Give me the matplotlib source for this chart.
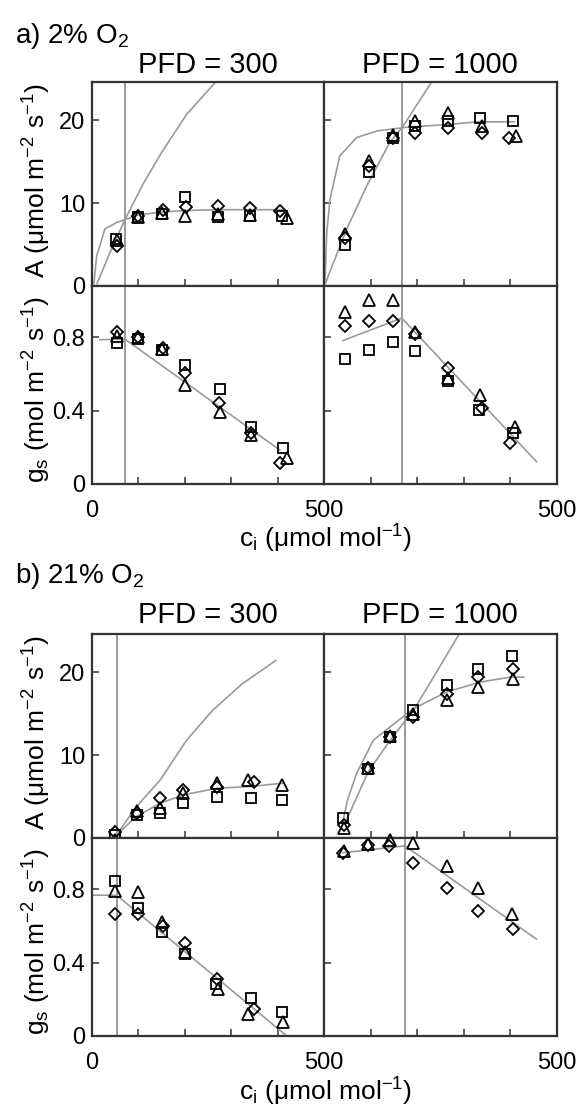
import numpy as np
import matplotlib
matplotlib.use('Agg')
import matplotlib.pyplot as plt

plt.rcParams['font.family'] = ['Liberation Sans', 'DejaVu Sans']
plt.rcParams['mathtext.default'] = 'regular'

# ---- a) 2% O2, PFD = 300 ----
a300_A_sq_ci = [52, 100, 150, 200, 272, 340, 410]
a300_A_sq = [5.7, 8.3, 8.7, 10.7, 8.3, 8.4, 8.5]
a300_A_tri_ci = [54, 100, 150, 200, 272, 340, 420]
a300_A_tri = [5.5, 8.3, 8.8, 8.5, 8.7, 8.6, 8.2]
a300_A_dia_ci = [54, 100, 152, 202, 272, 340, 405]
a300_A_dia = [4.8, 8.5, 9.2, 9.5, 9.6, 9.4, 9.0]
a300_rub_ci = [11, 40, 71, 110, 150, 204, 268]
a300_rub = [0.3, 4.2, 8.0, 12.3, 16.1, 20.7, 24.7]
a300_plat_ci = [4, 10, 28, 55, 71, 100, 150, 200, 270, 410]
a300_plat = [0.3, 3.6, 6.9, 7.7, 8.0, 8.6, 8.9, 9.1, 9.2, 9.2]
a300_gs_sq_ci = [54, 100, 150, 200, 276, 342, 412]
a300_gs_sq = [0.77, 0.79, 0.73, 0.65, 0.52, 0.31, 0.195]
a300_gs_tri_ci = [54, 100, 150, 200, 276, 342, 420]
a300_gs_tri = [0.81, 0.80, 0.735, 0.54, 0.395, 0.27, 0.14]
a300_gs_dia_ci = [54, 100, 152, 200, 274, 342, 405]
a300_gs_dia = [0.83, 0.80, 0.74, 0.605, 0.44, 0.28, 0.116]
a300_gsfit_ci = [17, 71, 405]
a300_gsfit = [0.787, 0.79, 0.185]
a300_vline = 71

# ---- a) 2% O2, PFD = 1000 ----
a1000_A_sq_ci = [45, 97, 148, 196, 266, 335, 405]
a1000_A_sq = [5.0, 13.7, 17.8, 19.3, 19.9, 20.2, 19.9]
a1000_A_tri_ci = [45, 97, 148, 196, 266, 338, 413]
a1000_A_tri = [6.3, 15.1, 18.2, 19.9, 20.9, 19.3, 18.1]
a1000_A_dia_ci = [45, 97, 148, 196, 266, 340, 398]
a1000_A_dia = [5.8, 14.5, 17.9, 18.5, 19.1, 18.5, 17.9]
a1000_rub_ci = [3, 9, 49, 92, 141, 170, 232]
a1000_rub = [0.3, 1.2, 6.9, 12.1, 17.3, 19.3, 24.7]
a1000_plat_ci = [2, 6, 13, 34, 70, 114, 170, 270, 330, 408]
a1000_plat = [0.5, 6.5, 10.5, 15.7, 17.9, 18.7, 19.1, 19.5, 19.8, 19.8]
a1000_gs_sq_ci = [45, 97, 148, 196, 266, 333, 405]
a1000_gs_sq = [0.68, 0.73, 0.772, 0.727, 0.56, 0.404, 0.277]
a1000_gs_tri_ci = [45, 97, 148, 196, 266, 335, 410]
a1000_gs_tri = [0.94, 1.005, 1.005, 0.83, 0.578, 0.486, 0.313]
a1000_gs_dia_ci = [45, 97, 148, 196, 266, 340, 400]
a1000_gs_dia = [0.86, 0.887, 0.887, 0.82, 0.632, 0.414, 0.222]
a1000_gsfit_ci = [41, 167, 456]
a1000_gsfit = [0.783, 0.905, 0.122]
a1000_vline = 167

# ---- b) 21% O2, PFD = 300 ----
b300_A_sq_ci = [50, 96, 147, 197, 269, 343, 410]
b300_A_sq = [0.36, 2.8, 3.0, 4.2, 5.0, 4.8, 4.6]
b300_A_tri_ci = [50, 96, 147, 197, 269, 337, 410]
b300_A_tri = [-0.24, 3.2, 3.6, 5.4, 6.6, 7.0, 6.4]
b300_A_dia_ci = [50, 96, 147, 197, 269, 350]
b300_A_dia = [0.76, 3.0, 4.8, 5.8, 6.2, 6.8]
b300_rub_ci = [53, 96, 147, 204, 260, 324, 396]
b300_rub = [0.4, 3.8, 7.0, 11.8, 15.4, 18.6, 21.4]
b300_plat_ci = [53, 96, 147, 197, 269, 340, 410]
b300_plat = [0.4, 2.6, 4.2, 5.2, 6.0, 6.2, 6.6]
b300_gs_sq_ci = [50, 100, 150, 200, 268, 343, 410]
b300_gs_sq = [0.846, 0.70, 0.565, 0.447, 0.283, 0.205, 0.132]
b300_gs_tri_ci = [50, 100, 150, 200, 272, 337, 412]
b300_gs_tri = [0.792, 0.783, 0.62, 0.456, 0.256, 0.12, 0.078]
b300_gs_dia_ci = [50, 100, 152, 200, 270, 350]
b300_gs_dia = [0.665, 0.665, 0.60, 0.51, 0.31, 0.147]
b300_gsfit_ci = [2, 53, 420]
b300_gsfit = [0.768, 0.768, 0.0]
b300_vline = 53

# ---- b) 21% O2, PFD = 1000 ----
b1000_A_sq_ci = [41, 95, 142, 192, 263, 331, 404]
b1000_A_sq = [2.4, 8.3, 12.2, 15.4, 18.4, 20.4, 22.0]
b1000_A_tri_ci = [43, 95, 142, 192, 263, 331, 406]
b1000_A_tri = [1.16, 8.5, 12.3, 14.9, 16.6, 18.2, 19.2]
b1000_A_dia_ci = [42, 95, 142, 192, 263, 331, 406]
b1000_A_dia = [1.56, 8.4, 12.2, 14.6, 17.4, 19.4, 20.4]
b1000_rub_ci = [45, 95, 142, 192, 235, 288]
b1000_rub = [1.76, 8.0, 11.8, 15.4, 19.4, 24.4]
b1000_plat_ci = [40, 50, 70, 106, 142, 192, 263, 335, 400, 429]
b1000_plat = [1.8, 4.5, 7.8, 11.8, 13.4, 15.6, 17.6, 18.8, 19.4, 19.4]
b1000_gs_tri_ci = [43, 95, 142, 192, 263, 331, 404]
b1000_gs_tri = [1.01, 1.05, 1.07, 1.055, 0.928, 0.81, 0.665]
b1000_gs_dia_ci = [41, 95, 140, 192, 263, 331, 406]
b1000_gs_dia = [1.0, 1.04, 1.037, 0.946, 0.81, 0.683, 0.583]
b1000_gsfit_ci = [41, 174, 456]
b1000_gsfit = [1.0, 1.037, 0.528]
b1000_vline = 174

W, H = 583, 1109
GRAY = '#9a9a9a'
DARK = '#333333'


def rect(x0, y_top, w, h):
    # pixel box -> figure fraction
    return [x0 / W, 1 - (y_top + h) / H, w / W, h / H]


def style(ax, left, kind, bottom_labels):
    ax.set_xlim(0, 500)
    for s in ax.spines.values():
        s.set_color(DARK)
        s.set_linewidth(1.6)
    ax.set_xticks([0, 100, 200, 300, 400, 500])
    if bottom_labels:
        ax.set_xticklabels(['0' if left else '', '', '', '', '', '500'])
    else:
        ax.set_xticklabels([])
    if kind == 'A':
        ax.set_ylim(0, 24.6)
        ax.set_yticks([0, 10, 20])
        ax.set_yticklabels(['0', '10', '20'] if left else [])
    else:
        ax.set_ylim(0, 1.08)
        ax.set_yticks([0, 0.4, 0.8])
        ax.set_yticklabels(['0', '0.4', '0.8'] if left else [])
    ax.tick_params(axis='both', direction='in', length=5, width=1.1, color=DARK,
                   labelsize=17)
    ax.tick_params(axis='y', pad=5)
    ax.tick_params(axis='x', pad=11.5)


def markers(ax, ci, vals, m, ms):
    ax.plot(ci, vals, linestyle='none', marker=m, ms=ms, mfc='none', mec='black',
            mew=1.3, clip_on=False, zorder=5)


def do_panel(x0, w, y_top, vline, A_sets, A_curves, gs_sets, gs_fit, left):
    axA = fig.add_axes(rect(x0, y_top, w, 204))
    axG = fig.add_axes(rect(x0, y_top + 204, w, 198))
    for ci, vals in A_curves:
        axA.plot(ci, vals, color=GRAY, lw=1.2, zorder=2)
    for ci, vals, m, ms in A_sets:
        markers(axA, ci, vals, m, ms)
    axG.plot(gs_fit[0], gs_fit[1], color=GRAY, lw=1.2, zorder=2)
    for ci, vals, m, ms in gs_sets:
        markers(axG, ci, vals, m, ms)
    axA.axvline(vline, color=GRAY, lw=1.4, zorder=1)
    axG.axvline(vline, color=GRAY, lw=1.4, zorder=1)
    style(axA, left, 'A', False)
    style(axG, left, 'gs', True)


fig = plt.figure(figsize=(W / 100, H / 100), dpi=100)

SQ, TRI, DIA = 's', '^', 'D'
LX, LW_, RX, RW = 92, 232, 324, 233

for top, panels in [
    (82, [
        (LX, LW_, a300_vline,
         [(a300_A_sq_ci, a300_A_sq, SQ, 7), (a300_A_tri_ci, a300_A_tri, TRI, 8),
          (a300_A_dia_ci, a300_A_dia, DIA, 6)],
         [(a300_rub_ci, a300_rub), (a300_plat_ci, a300_plat)],
         [(a300_gs_sq_ci, a300_gs_sq, SQ, 7), (a300_gs_tri_ci, a300_gs_tri, TRI, 8),
          (a300_gs_dia_ci, a300_gs_dia, DIA, 6)],
         (a300_gsfit_ci, a300_gsfit), True),
        (RX, RW, a1000_vline,
         [(a1000_A_sq_ci, a1000_A_sq, SQ, 7), (a1000_A_tri_ci, a1000_A_tri, TRI, 8),
          (a1000_A_dia_ci, a1000_A_dia, DIA, 6)],
         [(a1000_rub_ci, a1000_rub), (a1000_plat_ci, a1000_plat)],
         [(a1000_gs_sq_ci, a1000_gs_sq, SQ, 7), (a1000_gs_tri_ci, a1000_gs_tri, TRI, 8),
          (a1000_gs_dia_ci, a1000_gs_dia, DIA, 6)],
         (a1000_gsfit_ci, a1000_gsfit), False)]),
    (634, [
        (LX, LW_, b300_vline,
         [(b300_A_sq_ci, b300_A_sq, SQ, 7), (b300_A_tri_ci, b300_A_tri, TRI, 8),
          (b300_A_dia_ci, b300_A_dia, DIA, 6)],
         [(b300_rub_ci, b300_rub), (b300_plat_ci, b300_plat)],
         [(b300_gs_sq_ci, b300_gs_sq, SQ, 7), (b300_gs_tri_ci, b300_gs_tri, TRI, 8),
          (b300_gs_dia_ci, b300_gs_dia, DIA, 6)],
         (b300_gsfit_ci, b300_gsfit), True),
        (RX, RW, b1000_vline,
         [(b1000_A_sq_ci, b1000_A_sq, SQ, 7), (b1000_A_tri_ci, b1000_A_tri, TRI, 8),
          (b1000_A_dia_ci, b1000_A_dia, DIA, 6)],
         [(b1000_rub_ci, b1000_rub), (b1000_plat_ci, b1000_plat)],
         [(b1000_gs_tri_ci, b1000_gs_tri, TRI, 8), (b1000_gs_dia_ci, b1000_gs_dia, DIA, 6)],
         (b1000_gsfit_ci, b1000_gsfit), False)]),
]:
    for p in panels:
        do_panel(p[0], p[1], top, p[2], p[3], p[4], p[5], p[6], p[7])

# panel headings
fig.text(15 / W, 1 - 43 / H, 'a) 2% O$_2$', fontsize=20, va='baseline')
fig.text(15 / W, 1 - 583 / H, 'b) 21% O$_2$', fontsize=20, va='baseline')
for yb in [73, 623]:
    fig.text(208 / W, 1 - yb / H, 'PFD = 300', fontsize=21, ha='center', va='baseline')
    fig.text(440 / W, 1 - yb / H, 'PFD = 1000', fontsize=21, ha='center', va='baseline')

# axis labels
for yA, yG, yx in [(181, 390, 548), (733, 942, 1101)]:
    fig.text(37 / W, 1 - yA / H, 'A (μmol m$^{-2}$ s$^{-1}$)', fontsize=19, rotation=90,
             ha='center', va='center')
    fig.text(37 / W, 1 - yG / H, 'g$_s$ (mol m$^{-2}$ s$^{-1}$)', fontsize=19, rotation=90,
             ha='center', va='center')
    fig.text(326 / W, 1 - yx / H, 'c$_i$ (μmol mol$^{-1}$)', fontsize=19, ha='center',
             va='baseline')

fig.savefig('out.png', dpi=100)
